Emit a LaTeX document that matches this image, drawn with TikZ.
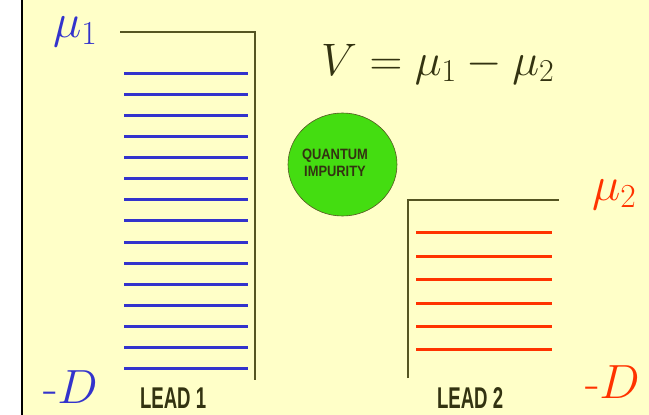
\RequirePackage{fix-cm}
\documentclass[tikz,border=0pt]{standalone}
\usepackage{fontspec}
\usetikzlibrary{shapes.geometric}
\newfontfamily\leadfont[FakeStretch=0.62]{Liberation Sans}
\newfontfamily\impfont[FakeStretch=0.86]{Liberation Sans}
\definecolor{paper}{RGB}{255,255,200}
\definecolor{bandblue}{RGB}{51,51,204}
\definecolor{bandred}{RGB}{255,51,0}
\definecolor{wallcol}{RGB}{85,85,34}
\definecolor{impgreen}{RGB}{68,221,17}
\definecolor{inkcol}{RGB}{51,51,17}
\begin{document}
\begin{tikzpicture}[x=1pt,y=-1pt,
  every node/.style={inner sep=0pt,outer sep=0pt},
  lbl/.style={anchor=base west,font=\fontsize{48}{54}\selectfont},
  leadlbl/.style={anchor=base west,text=inkcol,font=\leadfont\bfseries\fontsize{30}{30}\selectfont},
  wall/.style={draw=wallcol,line width=2pt},
  level1/.style={draw=bandblue,line width=3pt},
  level2/.style={draw=bandred,line width=3pt}]
\useasboundingbox (0,0) rectangle (649,415);
\fill[white] (0,0) rectangle (649,415);
\fill[paper] (22,0) rectangle (649,415);
\draw[black,line width=2pt] (22,0) -- (22,415);
% lead 1
\draw[wall] (120,32) -- (255,32) -- (255,380);
\draw[level1] (124,73)--(248,73) (124,94)--(248,94) (124,115)--(248,115)
  (124,136)--(248,136) (124,157)--(248,157) (124,178)--(248,178)
  (124,199)--(248,199) (124,220)--(248,220) (124,242)--(248,242)
  (124,263)--(248,263) (124,284)--(248,284) (124,305)--(248,305)
  (124,326)--(248,326) (124,347)--(248,347) (124,368)--(248,368);
% lead 2
\draw[wall] (408,378) -- (408,200) -- (559,200);
\draw[level2] (416,232)--(552,232) (416,256)--(552,256) (416,279)--(552,279)
  (416,303)--(552,303) (416,326)--(552,326) (416,349)--(552,349);
% impurity
\node[ellipse,draw=wallcol,line width=0.6pt,fill=impgreen,minimum width=109pt,minimum height=103pt] (imp) at (342.5,164.5) {};
\node[align=center,text=inkcol,font=\impfont\bfseries\fontsize{15}{16.5}\selectfont] (imptxt) at (335,163) {QUANTUM\\IMPURITY};
% labels
\node[lbl,text=bandblue] (mu1) at (53,37.5) {$\mu_1$};
\node[lbl,text=inkcol,font=\fontsize{45.5}{52}\selectfont] (volt) at (321,75) {$V=\mu_1-\mu_2$};
\node[lbl,text=bandred] (mu2) at (592,200) {$\mu_2$};
\node[lbl,text=bandblue] (dlow1) at (43,403) {-$D$};
\node[lbl,text=bandred] (dlow2) at (585,398) {-$D$};
\node[leadlbl] (lead1) at (140,408.5) {LEAD 1};
\node[leadlbl] (lead2) at (437,408.5) {LEAD 2};
\end{tikzpicture}
\end{document}
